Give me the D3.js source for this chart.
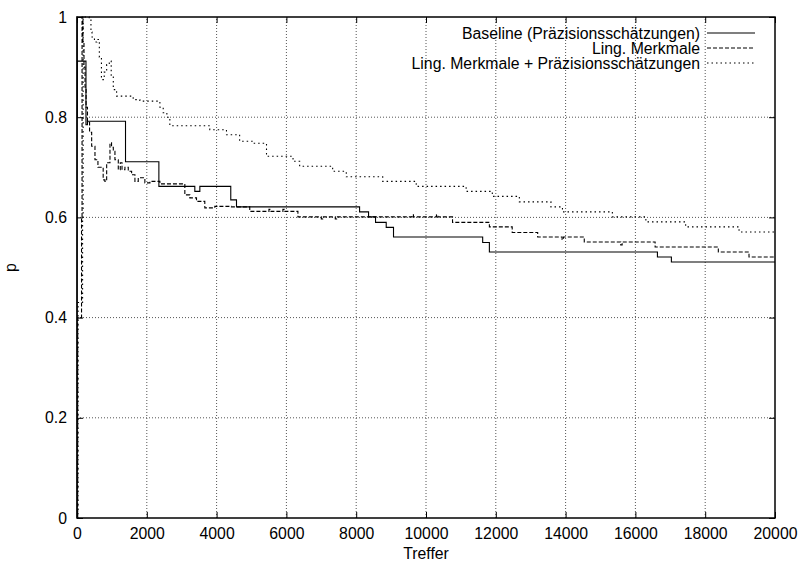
<!DOCTYPE html>
<html><head><meta charset="utf-8">
<script src="https://cdn.jsdelivr.net/npm/d3@7/dist/d3.min.js"></script>
<style>body{margin:0;background:#fff}svg{display:block}text{font-family:"Liberation Sans",Arial,Helvetica,sans-serif;fill:#000}</style>
</head><body><svg id="c" width="800" height="563"></svg>
<script>
// ---- data ----
const xTicks = [0,2000,4000,6000,8000,10000,12000,14000,16000,18000,20000];
const yTicks = [0,0.2,0.4,0.6,0.8,1];
const yTickLabels = ["0","0.2","0.4","0.6","0.8","1"];
const seriesNames = ["Baseline (Präzisionsschätzungen)","Ling. Merkmale","Ling. Merkmale + Präzisionsschätzungen"];
const xLabel = "Treffer";
const yLabel = "p";

// [Treffer, p] – value p holds from this Treffer on
const baseline = [[0,0],[2,1],[5,0.8],[10,0.912],[257,0.785],[300,0.792],[1390,0.711],[2346,0.662],[3376,0.652],[3520,0.662],[4406,0.635],[4570,0.621],[8097,0.611],[8354,0.601],[8554,0.590],[8860,0.580],[9069,0.561],[11624,0.550],[11816,0.531],[16631,0.521],[17031,0.511],[20000,0.511]];
const lingMerkmale = [[0,0],[20,0.4],[130,0.6],[145,1.0],[170,0.95],[200,0.9],[230,0.86],[260,0.82],[300,0.79],[360,0.77],[420,0.742],[515,0.715],[600,0.70],[750,0.675],[800,0.672],[850,0.709],[945,0.749],[990,0.74],[1040,0.732],[1087,0.715],[1183,0.695],[1240,0.709],[1290,0.695],[1373,0.70],[1469,0.692],[1565,0.685],[1660,0.672],[1755,0.679],[1945,0.669],[2090,0.672],[2375,0.667],[3090,0.645],[3233,0.639],[3424,0.632],[3662,0.619],[3948,0.622],[4425,0.621],[4950,0.612],[5500,0.616],[5560,0.612],[5900,0.616],[5940,0.612],[6330,0.601],[7000,0.597],[7040,0.601],[7400,0.597],[7440,0.601],[9600,0.605],[9640,0.601],[10300,0.605],[10340,0.601],[10760,0.590],[11816,0.581],[12470,0.570],[13200,0.561],[13900,0.556],[13940,0.561],[14535,0.551],[15580,0.545],[15620,0.551],[16565,0.541],[18376,0.531],[19255,0.521],[20000,0.521]];
const lingPraez = [[0,0],[30,0.43],[160,0.6],[175,1.0],[350,0.995],[400,0.97],[430,0.96],[500,0.95],[570,0.955],[640,0.92],[700,0.875],[780,0.89],[850,0.905],[925,0.912],[980,0.88],[1040,0.855],[1135,0.842],[1610,0.835],[1800,0.832],[2375,0.82],[2470,0.809],[2575,0.80],[2660,0.783],[3805,0.775],[4283,0.765],[4660,0.752],[5040,0.748],[5430,0.722],[6190,0.712],[6380,0.702],[7325,0.692],[7716,0.681],[8760,0.672],[9720,0.662],[11150,0.652],[11900,0.642],[12675,0.631],[13580,0.621],[13910,0.611],[15340,0.601],[16300,0.591],[17440,0.581],[18970,0.571],[20000,0.571]];
const seriesData = [baseline, lingMerkmale, lingPraez];

// ---- layout ----
const W = 800, H = 563;
const m = {l:77, r:25, t:17, b:45};
const svg = d3.select("#c");
const x = d3.scaleLinear().domain([0,20000]).range([m.l, W-m.r]);
const y = d3.scaleLinear().domain([0,1]).range([H-m.b, m.t]);
const fs = "15.8px";
const dashes = [null, "4,2", "1.5,3"];

// grid
const g = svg.append("g");
g.selectAll(".gx").data(xTicks.slice(1,-1)).join("line")
  .attr("x1",d=>x(d)).attr("x2",d=>x(d)).attr("y1",y(0)).attr("y2",y(1))
  .attr("stroke","#555").attr("stroke-width",1).attr("stroke-dasharray","1,2");
g.selectAll(".gy").data(yTicks.slice(1,-1)).join("line")
  .attr("y1",d=>y(d)).attr("y2",d=>y(d)).attr("x1",x(0)).attr("x2",x(20000))
  .attr("stroke","#555").attr("stroke-width",1).attr("stroke-dasharray","1,2");

// series
const line = d3.line().x(d=>x(d[0])).y(d=>y(d[1])).curve(d3.curveStepAfter);
svg.append("g").selectAll("path").data(seriesData).join("path")
  .attr("d", line).attr("fill","none").attr("stroke","#000").attr("stroke-width",1.1)
  .attr("stroke-dasharray",(d,i)=>dashes[i]);

// axes with inward ticks (mirrored)
const ax = svg.append("g");
ax.append("g").attr("transform",`translate(0,${y(0)})`)
  .call(d3.axisBottom(x).tickValues(xTicks).tickSize(-6).tickPadding(10).tickFormat(d3.format("d")));
ax.append("g").attr("transform",`translate(0,${y(1)})`)
  .call(d3.axisTop(x).tickValues(xTicks).tickSize(-6).tickFormat(""));
ax.append("g").attr("transform",`translate(${x(0)},0)`)
  .call(d3.axisLeft(y).tickValues(yTicks).tickSize(-6).tickPadding(10).tickFormat((d,i)=>yTickLabels[i]));
ax.append("g").attr("transform",`translate(${x(20000)},0)`)
  .call(d3.axisRight(y).tickValues(yTicks).tickSize(-6).tickFormat(""));
ax.selectAll(".domain").remove();
ax.selectAll(".tick line").attr("stroke","#000").attr("stroke-width",1);
ax.selectAll("text").attr("font-size",fs).attr("font-family",'"Liberation Sans",Arial,sans-serif').attr("fill","#000");
svg.append("rect").attr("x",x(0)).attr("y",y(1)).attr("width",x(20000)-x(0)).attr("height",y(0)-y(1))
  .attr("fill","none").attr("stroke","#000").attr("stroke-width",1.5);

// axis titles
svg.append("text").attr("x",(x(0)+x(20000))/2).attr("y",559).attr("text-anchor","middle").attr("font-size",fs).text(xLabel);
svg.append("text").attr("transform",`translate(16,${(y(0)+y(1))/2}) rotate(-90)`).attr("text-anchor","middle").attr("font-size",fs).text(yLabel);

// legend
const lg = svg.append("g");
seriesNames.forEach((n,i)=>{
  const yy = 33 + i*15;
  lg.append("text").attr("x",700).attr("y",yy).attr("dy","0.35em").attr("text-anchor","end").attr("font-size",fs).text(n);
  lg.append("line").attr("x1",707).attr("x2",755).attr("y1",yy).attr("y2",yy)
    .attr("stroke","#000").attr("stroke-width",1.1).attr("stroke-dasharray",dashes[i]);
});
</script></body></html>
